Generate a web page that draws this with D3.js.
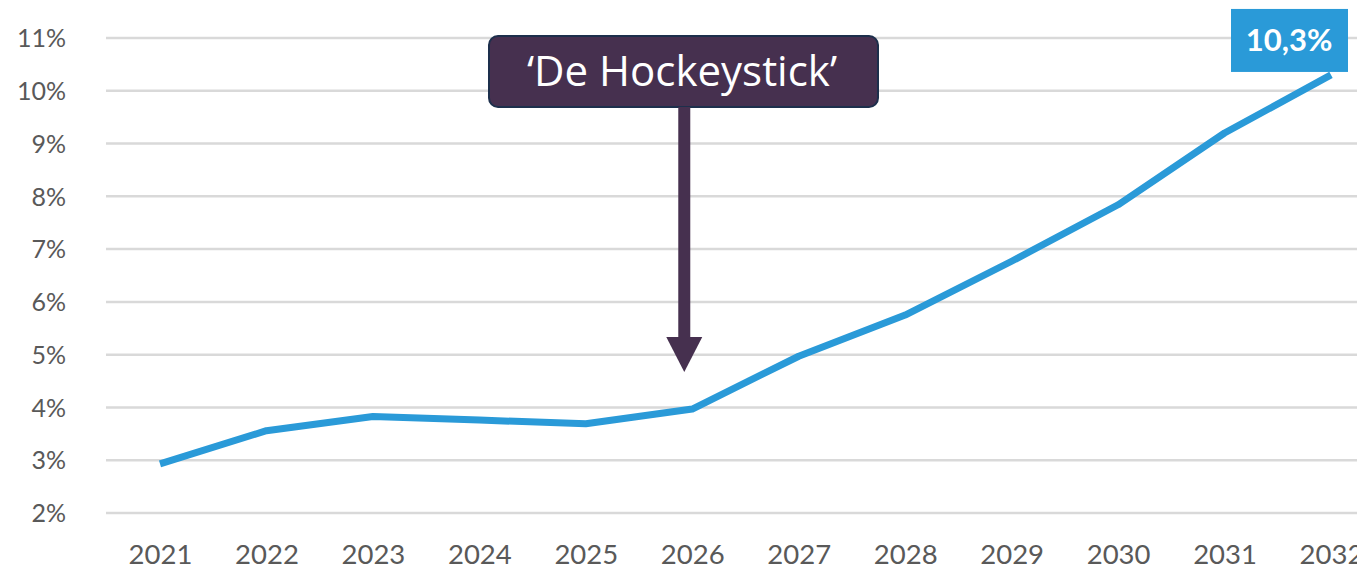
<!DOCTYPE html>
<html><head><meta charset="utf-8">
<script src="https://cdn.jsdelivr.net/npm/d3@7"></script>
<style>html,body{margin:0;padding:0;background:#fff;overflow:hidden}</style>
</head><body>
<svg id="c" width="1357" height="570"></svg>
<script>
const years = ["2021","2022","2023","2024","2025","2026","2027","2028","2029","2030","2031","2032"];
const values = [2.93, 3.56, 3.83, 3.76, 3.69, 3.97, 4.97, 5.75, 6.77, 7.84, 9.2, 10.3];
const yTicks = [2,3,4,5,6,7,8,9,10,11];
const endLabel = "10,3%";
const annotationText = "\u2018De Hockeystick\u2019";
const annotationYear = "2026";

const svg = d3.select("#c");
const font = "Lato, 'Noto Sans', sans-serif";
const x = d3.scalePoint().domain(years).range([160, 1331]);
const y = d3.scaleLinear().domain([2, 11]).range([513, 38]);

// gridlines
svg.append("g").selectAll("line").data(yTicks).join("line")
  .attr("x1", 106).attr("x2", 1357)
  .attr("y1", d => y(d)).attr("y2", d => y(d))
  .attr("stroke", "#d9d9d9").attr("stroke-width", 2.5);

// y axis labels
const yAxis = d3.axisLeft(y).tickValues(yTicks).tickFormat(d => d + "%").tickSize(0).tickPadding(0);
const gy = svg.append("g").attr("transform", "translate(66,0)").call(yAxis);
gy.select(".domain").remove();
gy.selectAll("text").attr("font-family", font).attr("font-size", 25).attr("fill", "#595959").attr("dy", "0.35em");

// x axis labels
const xAxis = d3.axisBottom(x).tickSize(0).tickPadding(0);
const gx = svg.append("g").attr("transform", "translate(0,545)").call(xAxis);
gx.select(".domain").remove();
gx.selectAll("text").attr("font-family", font).attr("font-size", 27.5).attr("fill", "#595959").attr("dy", "0.7em");

// line
const line = d3.line().x((d, i) => x(years[i])).y(d => y(d));
svg.append("path").datum(values).attr("d", line)
  .attr("fill", "none").attr("stroke", "#2a9ad8").attr("stroke-width", 7)
  .attr("stroke-linejoin", "round").attr("stroke-linecap", "butt");

// end label
const lastX = x(years[years.length - 1]);
const lastY = y(values[values.length - 1]);
svg.append("rect").attr("x", lastX - 100).attr("y", lastY - 66).attr("width", 117).attr("height", 63)
  .attr("fill", "#2a9ad8");
svg.append("text").attr("x", lastX - 42).attr("y", lastY - 35).attr("dy", "0.35em")
  .attr("text-anchor", "middle").attr("font-family", font).attr("font-weight", 700)
  .attr("font-size", 31).attr("fill", "#fff").text(endLabel);

// annotation
const ax = x(annotationYear) - 8;
const purple = "#46304f";
svg.append("rect").attr("x", 489).attr("y", 36).attr("width", 389).attr("height", 71)
  .attr("rx", 9).attr("fill", purple).attr("stroke", "#1d2f4c").attr("stroke-width", 2);
svg.append("text").attr("x", 682).attr("y", 71).attr("dy", "0.35em").attr("text-anchor", "middle")
  .attr("font-family", "'Open Sans', sans-serif").attr("font-size", 42).attr("fill", "#fff").text(annotationText);
svg.append("rect").attr("x", ax - 6).attr("y", 107).attr("width", 12).attr("height", 232).attr("fill", purple);
svg.append("path").attr("d", `M${ax-18},337 L${ax+18},337 L${ax},372 Z`).attr("fill", purple);
</script>
</body></html>
